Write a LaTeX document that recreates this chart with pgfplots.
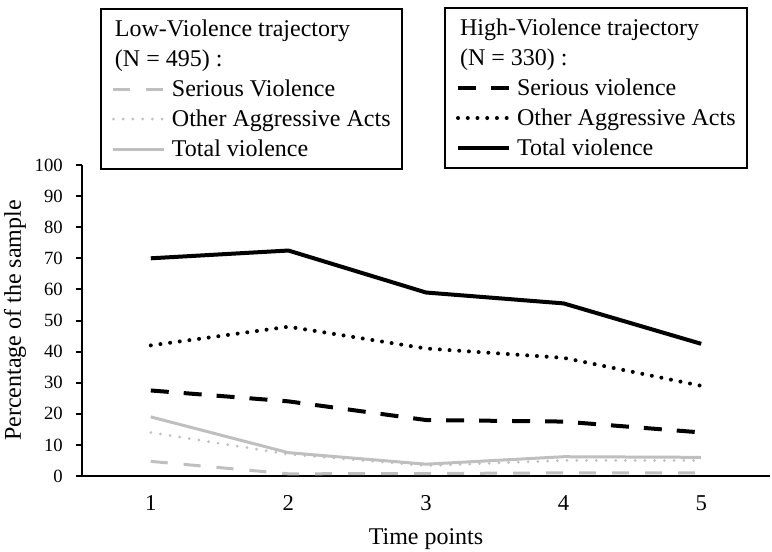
\documentclass[border=0pt]{standalone}
\usepackage{fontspec}
\setmainfont{Liberation Serif}
\usepackage{pgfplots}
\pgfplotsset{compat=1.18}
\definecolor{lowgray}{RGB}{191,191,191}
\pgfplotsset{
  common/.style={
    width=516pt, height=233.25pt, scale only axis,
    xmin=0.5, xmax=5.5, ymin=0, ymax=100, clip=false,
    legend cell align=left,
  },
  leg/.style={legend style={at={#1}, anchor=north west, draw=black, line width=1.5pt, fill=white,
      font=\fontsize{18pt}{22pt}\selectfont, inner xsep=8.25pt, inner ysep=3.75pt,
      row sep=0pt, column sep=4.5pt,
      nodes={inner sep=0pt, text height=17pt, text depth=5.5pt}}},
  samp/.style={legend image code/.code={\draw[##1] (0pt,0pt) -- (38.25pt,0pt);}},
}
\begin{document}
\begin{tikzpicture}
\useasboundingbox (-61.5pt,-56.25pt) rectangle (517.5pt,357pt);
\begin{axis}[common, leg={(0.02616,1.5048)},
  axis x line=bottom, axis y line=left,
  axis line style={line width=1.5pt, -, black},
  ytick={0,10,...,100}, xtick={1,2,3,4,5},
  tick align=outside, major tick length=4.5pt,
  tick style={line width=1.5pt, black},
  x tick style={draw=none},
  /pgf/number format/assume math mode=true,
  y tick label style={font=\fontsize{14pt}{16pt}\selectfont, inner sep=0pt},
  yticklabel shift=9.75pt,
  x tick label style={font=\fontsize{17pt}{20pt}\selectfont, inner sep=0pt, anchor=north},
  xticklabel shift=9.75pt,
  xlabel={Time points},
  xlabel style={font=\fontsize{18pt}{22pt}\selectfont, at={(axis description cs:0.5,0)}, anchor=north, inner sep=0pt, yshift=-39pt},
  ylabel={Percentage of the sample},
  ylabel style={font=\fontsize{18pt}{22pt}\selectfont, at={(axis description cs:-0.0974,0.5)}, anchor=center, inner sep=0pt},
]
\addlegendimage{empty legend}\addlegendentry{\hspace*{-42.75pt}Low-Violence trajectory}
\addlegendimage{empty legend}\addlegendentry{\hspace*{-42.75pt}(N = 495) :}
\addplot[samp, lowgray, line width=2.25pt, dash pattern=on 12.75pt off 12pt]
  coordinates {(1,4.7) (2,0.7) (3,0.8) (4,1) (5,1)};
\addlegendentry{Serious Violence}
\addplot[samp, lowgray, line width=2.25pt, line cap=round, dash pattern=on 0pt off 7.3pt]
  coordinates {(1,14) (2,7) (3,3.3) (4,5) (5,5)};
\addlegendentry{Other Aggressive Acts}
\addplot[samp, lowgray, line width=2.25pt, line join=round]
  coordinates {(1,19) (2,7.5) (3,3.8) (4,6.2) (5,6)};
\addlegendentry{Total violence}
\end{axis}
\begin{axis}[common, leg={(0.5262,1.508)}, hide axis]
\addlegendimage{empty legend}\addlegendentry{\hspace*{-42.75pt}High-Violence trajectory}
\addlegendimage{empty legend}\addlegendentry{\hspace*{-42.75pt}(N = 330) :}
\addplot[samp, black, line width=3pt, dash pattern=on 13.5pt off 11.25pt]
  coordinates {(1,27.5) (2,24) (3,18) (4,17.5) (5,14)};
\addlegendentry{Serious violence}
\addplot[samp, black, line width=3pt, line cap=round, dash pattern=on 0pt off 7.3pt]
  coordinates {(1,42) (2,48) (3,41) (4,38) (5,29)};
\addlegendentry{Other Aggressive Acts}
\addplot[samp, black, line width=3pt, line join=round]
  coordinates {(1,70) (2,72.5) (3,59) (4,55.5) (5,42.5)};
\addlegendentry{Total violence}
\end{axis}
\end{tikzpicture}
\end{document}
